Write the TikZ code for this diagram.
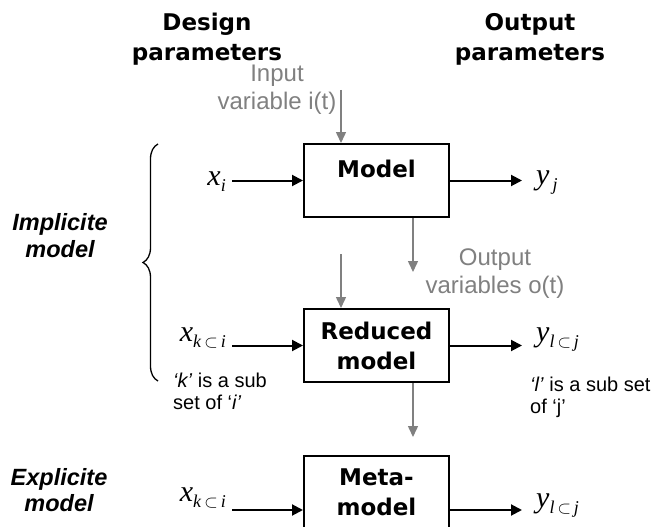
\documentclass[tikz,border=0pt]{standalone}
\usepackage{fontspec}
\setmainfont{Liberation Sans}
\newfontfamily\mmboldfont{DejaVu Sans}
\newfontfamily\mmserif{Liberation Serif}
\usetikzlibrary{arrows.meta,decorations.pathreplacing}
\definecolor{mmGray}{RGB}{128,128,128}
\newcommand{\mmIdx}[2]{\textit{#1}\raisebox{-6pt}{\fontsize{18}{18}\selectfont#2}}

\begin{document}
\begin{tikzpicture}[
    x=1pt, y=-1pt,
    mmBox/.style={draw, line width=2pt, minimum width=145pt, minimum height=73pt, inner sep=0pt, align=center, font=\mmboldfont\bfseries\fontsize{23}{30}\selectfont},
    mmTitle/.style={align=center, inner sep=0pt, font=\mmboldfont\bfseries\fontsize{23}{30}\selectfont},
    mmFlowText/.style={align=center, inner sep=0pt, text=mmGray, font=\fontsize{24}{28}\selectfont},
    mmNote/.style={align=left, inner sep=0pt, font=\fontsize{20}{22}\selectfont},
    mmSide/.style={align=center, inner sep=0pt, font=\bfseries\itshape\fontsize{23.5}{26.5}\selectfont},
    mmVar/.style={inner ysep=2pt, inner xsep=6pt, font=\mmserif\fontsize{30}{32}\selectfont},
    mmArrow/.style={line width=2pt, -{Triangle[length=11pt,width=11pt]}},
    mmFlow/.style={line width=1.5pt, draw=mmGray, -{Triangle[length=11pt,width=10pt]}}
]
\useasboundingbox (0,0) rectangle (659,527);

% Column titles
\node[mmTitle] (designTitle) at (207,39) {Design\\parameters};
\node[mmTitle] (outputTitle) at (530,39) {Output\\parameters};

% Model
\node[mmBox, text depth=24pt] (model) at (376.5,180.5) {Model};
\node[mmFlowText] (inputText) at (277,90) {Input\\variable i(t)};
\coordinate (inputStart) at (341,90);
\draw[mmFlow] (inputStart) -- (inputStart |- model.north);

\node[mmVar, anchor=east] (xi) at (232,182) {\mmIdx{x}{\textit{i}}};
\node[mmVar, anchor=west] (yj) at (530,183) {\mmIdx{y}{\,\textit{j}}};
\draw[mmArrow] (xi.east |- model.west) -- (model.west);
\draw[mmArrow, shorten >=8pt] (model.east) -- (yj.west |- model.east);

% Output variables
\coordinate (outputTip) at (413,272);
\draw[mmFlow] (outputTip |- model.south) -- (outputTip);
\node[mmFlowText] (outputText) at (495,273.5) {Output\\variables o(t)};

% Reduced model
\node[mmBox] (reduced) at (376.5,345.5) {Reduced\\model};
\coordinate (reducedStart) at (341,254);
\draw[mmFlow] (reducedStart) -- (reducedStart |- reduced.north);

\node[mmVar, anchor=east] (xk) at (232,338) {\mmIdx{x}{\textit{k}\,$\subset$\,\textit{i}}};
\node[mmVar, anchor=west] (yl) at (530,340) {\mmIdx{y}{\textit{l}\,$\subset$\,\textit{j}}};
\draw[mmArrow] (xk.east |- reduced.west) -- (reduced.west);
\draw[mmArrow, shorten >=8pt] (reduced.east) -- (yl.west |- reduced.east);

\node[mmNote, anchor=north west] (kNote) at (173,373) {\textit{‘k’} is a sub\\set of ‘\textit{i’}};
\node[mmNote, anchor=north west] (lNote) at (530,377) {\textit{‘l’} is a sub set\\of ‘j’};

% Meta-model
\coordinate (metaTip) at (413,437);
\draw[mmFlow] (metaTip |- reduced.south) -- (metaTip);
\node[mmBox] (meta) at (376.5,492) {Meta-\\model};

\node[mmVar, anchor=south east] (xkMeta) at (232,510) {\mmIdx{x}{\textit{k}\,$\subset$\,\textit{i}}};
\node[mmVar, anchor=west] (ylMeta) at (530,506) {\mmIdx{y}{\textit{l}\,$\subset$\,\textit{j}}};
\draw[mmArrow] (xkMeta.south east) -- (xkMeta.south east -| meta.west);
\draw[mmArrow, shorten >=8pt] (meta.east |- xkMeta.south) -- (ylMeta.west |- xkMeta.south);

% Implicit / explicit
\coordinate (braceBottom) at (158,381);
\coordinate (braceTop) at (158,144);
\draw[line width=1.3pt, decorate, decoration={brace, amplitude=15pt}] (braceBottom) -- (braceTop);
\node[mmSide] (implicitLabel) at (60,235.5) {Implicite\\model};
\node[mmSide] (explicitLabel) at (59,490) {Explicite\\model};
\end{tikzpicture}
\end{document}
